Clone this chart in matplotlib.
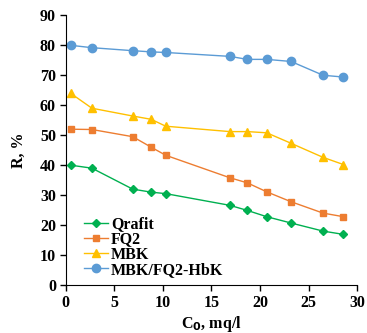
import numpy as np
from matplotlib import pyplot as plt

plt.rcParams['font.family'] = 'Liberation Serif'
plt.rcParams['font.weight'] = 'bold'

c0 = [0.5, 2.7, 6.9, 8.8, 10.3, 16.9, 18.7, 20.7, 23.2, 26.5, 28.6]
r_qrafit = [40, 39, 32, 31, 30.5, 26.6, 24.9, 22.8, 20.7, 18, 16.9]
r_fq2 = [52, 51.9, 49.5, 46, 43.3, 35.8, 34.1, 31.1, 27.8, 24, 22.8]
r_mbk = [64, 59, 56.4, 55.3, 53, 51.2, 51.2, 50.8, 47.3, 42.6, 40.2]
r_mbk_hbk = [80, 79.2, 78.2, 77.8, 77.6, 76.3, 75.3, 75.3, 74.6, 70, 69.4]

fig = plt.figure(figsize=(3.67, 3.33), dpi=100)
ax = fig.add_axes([0.179, 0.144, 0.794, 0.81])

ax.plot(c0, r_qrafit, color='#00B050', marker='D', markersize=4.5, lw=1, label='Qrafit')
ax.plot(c0, r_fq2, color='#ED7D31', marker='s', markersize=5, lw=1, label='FQ2')
ax.plot(c0, r_mbk, color='#FFC000', marker='^', markersize=6, lw=1, label='MBK')
ax.plot(c0, r_mbk_hbk, color='#5B9BD5', marker='o', markersize=6, lw=1, label='MBK/FQ2-HbK')

ax.set_xlim(0, 30)
ax.set_ylim(0, 90)
ax.set_xticks(np.arange(0, 31, 5))
ax.set_yticks(np.arange(0, 91, 10))
ax.spines['top'].set_visible(False)
ax.spines['right'].set_visible(False)
ax.tick_params(labelsize=11.5, direction='out', length=4, width=1, pad=3)
ax.set_xlabel('C$_\\mathbf{0}$, mq/l', fontsize=11.5, fontweight='bold', labelpad=2)
ax.set_ylabel('R, %', fontsize=11.5, fontweight='bold', labelpad=9)

ax.legend(loc='lower left', bbox_to_anchor=(0.04, 0.003), frameon=False, fontsize=11.5,
          handlelength=1.5, handletextpad=0.2, labelspacing=-0.05, borderaxespad=0)

fig.savefig('out.png', dpi=100)
